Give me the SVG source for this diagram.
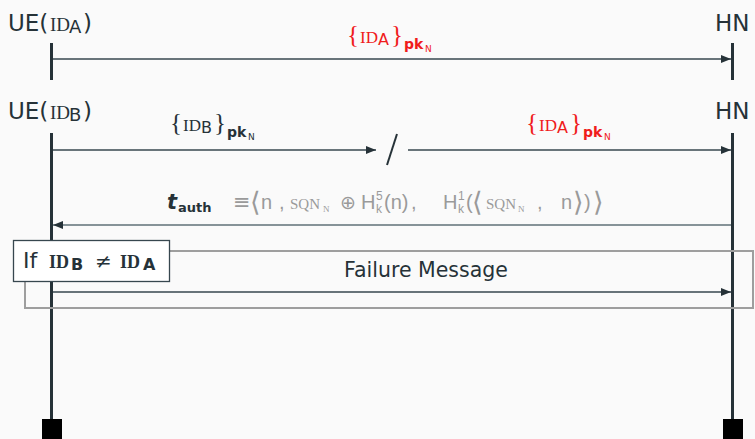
<svg xmlns="http://www.w3.org/2000/svg" width="755" height="439" viewBox="0 0 755 439">
<defs>
<style>
.t{font-family:"DejaVu Sans","Liberation Sans",sans-serif;fill:#263238}
.s{font-family:"DejaVu Sans","Liberation Sans",sans-serif}
.l{font-family:"Liberation Sans",sans-serif}
.sc{font-family:"Liberation Serif",serif}
.red{fill:#f01c1c}
.grey{fill:#9a9a9a}
.life{stroke:#263238;stroke-width:3}
.msg{stroke:#37474f;stroke-width:1.3;fill:none}
</style>
<marker id="ah" viewBox="0 0 10 10" refX="10" refY="5" markerWidth="10" markerHeight="10" markerUnits="userSpaceOnUse" orient="auto">
<path d="M0,1 L10,5 L0,9 Z" fill="#263238"/>
</marker>
</defs>
<rect width="755" height="439" fill="#fafafa"/>

<g id="ueA">
<text class="t" y="31" font-size="23"><tspan x="8">UE(</tspan><tspan class="sc" x="50" font-size="19">ID</tspan><tspan x="69" font-size="18" dy="2">A</tspan><tspan x="83" dy="-2">)</tspan></text>
<line class="life" x1="51.5" y1="43" x2="51.5" y2="80"/>
</g>
<g id="hnA">
<text class="t" x="715" y="31" font-size="23">HN</text>
<line class="life" x1="732.5" y1="43" x2="732.5" y2="80"/>
</g>

<g id="ueB">
<text class="t" y="119" font-size="23"><tspan x="8">UE(</tspan><tspan class="sc" x="50" font-size="19">ID</tspan><tspan x="69" font-size="18" dy="2">B</tspan><tspan x="83" dy="-2">)</tspan></text>
<line class="life" x1="51.5" y1="133" x2="51.5" y2="420"/>
<rect x="42" y="419" width="20" height="20" fill="#000"/>
</g>
<g id="hnB">
<text class="t" x="715" y="119" font-size="23">HN</text>
<line class="life" x1="732.5" y1="133" x2="732.5" y2="420"/>
<rect x="723" y="419" width="20" height="20" fill="#000"/>
</g>

<g id="guard">
<rect x="25" y="251" width="728" height="57" fill="none" stroke="#9e9e9e" stroke-width="2"/>
<rect x="13.5" y="240.5" width="156" height="41" fill="#fff" stroke="#37474f" stroke-width="1.3"/>
<text class="t" y="268" font-size="22"><tspan x="23">If</tspan><tspan class="sc" x="49" font-size="18" font-weight="bold">ID</tspan><tspan x="71" font-size="16" font-weight="bold" dy="2">B</tspan><tspan x="95" dy="-2" font-size="20">≠</tspan><tspan class="sc" x="120" font-size="18" font-weight="bold">ID</tspan><tspan x="143" font-size="16" font-weight="bold" dy="2">A</tspan></text>
</g>

<g id="connectors">
<line class="msg" x1="53" y1="59" x2="731" y2="59" marker-end="url(#ah)"/>
<text class="red" y="43"><tspan class="sc" x="347" font-size="25">{</tspan><tspan class="sc" x="360" font-size="17">ID</tspan><tspan class="s" x="378" font-size="16" dy="2">A</tspan><tspan class="sc" x="391" font-size="25" dy="-2">}</tspan><tspan class="s" x="404" font-size="14" font-weight="bold" dy="6">pk</tspan><tspan class="s" x="425" font-size="9" dy="3">N</tspan></text>

<line class="msg" x1="53" y1="150" x2="376" y2="150" marker-end="url(#ah)"/>
<line x1="397" y1="134" x2="387" y2="165" stroke="#263238" stroke-width="2"/>
<line class="msg" x1="408" y1="150" x2="731" y2="150" marker-end="url(#ah)"/>
<text class="t" y="131"><tspan class="sc" x="170" font-size="25">{</tspan><tspan class="sc" x="183" font-size="17">ID</tspan><tspan class="s" x="201" font-size="16" dy="2">B</tspan><tspan class="sc" x="214" font-size="25" dy="-2">}</tspan><tspan class="s" x="227" font-size="14" font-weight="bold" dy="6">pk</tspan><tspan class="s" x="248" font-size="9" dy="3">N</tspan></text>
<text class="red" y="131"><tspan class="sc" x="526" font-size="25">{</tspan><tspan class="sc" x="539" font-size="17">ID</tspan><tspan class="s" x="557" font-size="16" dy="2">A</tspan><tspan class="sc" x="570" font-size="25" dy="-2">}</tspan><tspan class="s" x="583" font-size="14" font-weight="bold" dy="6">pk</tspan><tspan class="s" x="604" font-size="9" dy="3">N</tspan></text>

<line x1="731" y1="225" x2="53" y2="225" stroke="#5f7077" stroke-width="1.6" marker-end="url(#ah)"/>
<text class="t" y="209"><tspan x="167" font-style="italic" font-weight="bold" font-size="21">t</tspan><tspan x="178" font-size="13" font-weight="bold" dy="3">auth</tspan></text>
<text class="grey l" y="209" font-size="20"><tspan class="s" x="233" font-size="21">≡</tspan><tspan class="s" x="250" font-size="27" dy="2">⟨</tspan><tspan x="261" dy="-2">n</tspan><tspan x="279">,</tspan><tspan class="sc" x="290" font-size="15">SQN</tspan><tspan class="sc" x="323" font-size="9" dy="3">N</tspan><tspan class="s" x="340" font-size="19" dy="-3">⊕</tspan><tspan x="361">H</tspan><tspan x="376" font-size="12" dy="4">k</tspan><tspan x="384" dy="-4">(n)</tspan><tspan x="411">,</tspan><tspan x="443">H</tspan><tspan x="458" font-size="12" dy="4">k</tspan><tspan x="466" dy="-4">(</tspan><tspan class="s" x="472" font-size="27" dy="2">⟨</tspan><tspan class="sc" x="486" font-size="15" dy="-2">SQN</tspan><tspan class="sc" x="518" font-size="9" dy="3">N</tspan><tspan x="537" dy="-3">,</tspan><tspan x="561">n</tspan><tspan class="s" x="573" font-size="27" dy="2">⟩</tspan><tspan x="584" dy="-2">)</tspan><tspan class="s" x="593" font-size="27" dy="2">⟩</tspan></text>
<text class="grey l" y="200" font-size="12"><tspan x="376">5</tspan><tspan x="458">1</tspan></text>

<line class="msg" x1="53" y1="292" x2="731" y2="292" marker-end="url(#ah)"/>
<text class="t" x="426" y="277" font-size="20.5" text-anchor="middle">Failure Message</text>
</g>
</svg>
